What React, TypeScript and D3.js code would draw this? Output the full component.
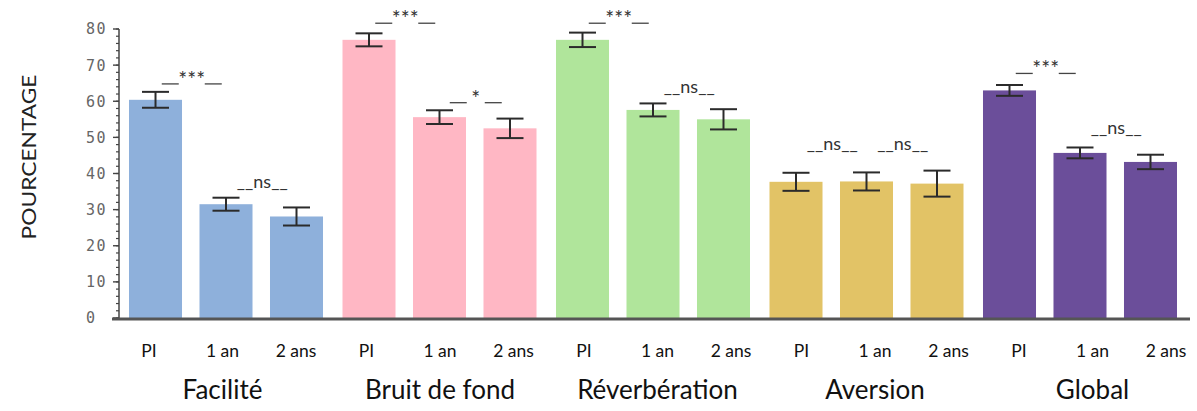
import React from "react";
import * as d3 from "d3";

const groups = ["Facilité", "Bruit de fond", "Réverbération", "Aversion", "Global"];
const periods = ["PI", "1 an", "2 ans"];
const groupColors = ["#8EB0DB", "#FFB7C4", "#B0E59B", "#E2C366", "#6B4E9A"];

const meanPI = [60.4, 77.0, 77.0, 37.7, 63.0];
const errPI = [2.2, 1.8, 2.0, 2.5, 1.5];
const mean1an = [31.5, 55.6, 57.6, 37.8, 45.7];
const err1an = [1.8, 1.9, 1.8, 2.5, 1.5];
const mean2ans = [28.1, 52.5, 55.0, 37.2, 43.2];
const err2ans = [2.5, 2.7, 2.8, 3.6, 2.0];

const yTicks = [0, 10, 20, 30, 40, 50, 60, 70, 80];

// significance annotations: group index, first period index of the pair, label, level (percentage)
const annGroup = [0, 0, 1, 1, 2, 2, 3, 3, 4, 4];
const annFrom = [0, 1, 0, 1, 0, 1, 0, 1, 0, 1];
const annLabel = ["***", "ns", "***", "*", "***", "ns", "ns", "ns", "***", "ns"];
const annLevel = [64.8, 35.2, 81.6, 59.6, 81.6, 61.5, 45.7, 45.7, 67.7, 50.2];

const W = 1197;
const H = 411;
const FONT = "Lato, 'Open Sans', sans-serif";

export default function App() {
  const means = [meanPI, mean1an, mean2ans];
  const errs = [errPI, err1an, err2ans];

  const y = d3.scaleLinear().domain([0, 80]).range([318, 29]);
  const xGroup = d3.scaleBand<string>().domain(groups).range([129, 1177]).paddingInner(0.0913);
  const xInner = d3.scaleBand<string>().domain(periods).range([0, xGroup.bandwidth()]).paddingInner(0.248);
  const bw = xInner.bandwidth();
  const barCenter = (g: number, p: number) =>
    (xGroup(groups[g]) as number) + (xInner(periods[p]) as number) + bw / 2;

  // label layout (text boxes under the axis)
  const xLab = d3.scalePoint<string>().domain(groups).range([149, 149 + 4 * 217.5]);
  const xLabIn = d3.scalePoint<string>().domain(periods).range([0, 147]);

  const minor = d3.range(0, 81, 2);

  return (
    <svg width={W} height={H} style={{ display: "block", position: "absolute", left: 0, top: 0 }}>
      <rect width={W} height={H} fill="#fff" />
      {groups.map((g, gi) =>
        periods.map((p, pi) => {
          const v = means[pi][gi];
          return (
            <rect
              key={g + p}
              x={barCenter(gi, pi) - bw / 2}
              y={y(v)}
              width={bw}
              height={y(0) - y(v)}
              fill={groupColors[gi]}
            />
          );
        })
      )}
      {groups.map((g, gi) =>
        periods.map((p, pi) => {
          const v = means[pi][gi];
          const e = errs[pi][gi];
          const cx = barCenter(gi, pi);
          const cap = 13.5;
          return (
            <g key={"e" + g + p} stroke="#2b2b2b" strokeWidth={2}>
              <line x1={cx} x2={cx} y1={y(v + e)} y2={y(v - e)} />
              <line x1={cx - cap} x2={cx + cap} y1={y(v + e)} y2={y(v + e)} />
              <line x1={cx - cap} x2={cx + cap} y1={y(v - e)} y2={y(v - e)} />
            </g>
          );
        })
      )}
      {annLabel.map((lab, i) => {
        const g = annGroup[i];
        const a = annFrom[i];
        const cx = (barCenter(g, a) + barCenter(g, a + 1)) / 2 + 1;
        const ly = y(annLevel[i]);
        if (lab === "ns") {
          return (
            <text key={"a" + i} x={cx} y={ly - 3} textAnchor="middle" fontFamily={FONT} fontSize={18} fill="#333">
              {"__ns__"}
            </text>
          );
        }
        const half = lab === "*" ? 9 : 13;
        return (
          <g key={"a" + i}>
            <line x1={cx - half - 17} x2={cx - half} y1={ly} y2={ly} stroke="#444" strokeWidth={1.3} />
            <line x1={cx + half} x2={cx + half + 17} y1={ly} y2={ly} stroke="#444" strokeWidth={1.3} />
            <text x={cx} y={ly + 3} textAnchor="middle" fontFamily={FONT} fontSize={21} fill="#333">
              {lab}
            </text>
          </g>
        );
      })}
      {/* y axis */}
      <line x1={119} x2={119} y1={y(80)} y2={y(0)} stroke="#444" strokeWidth={1.5} />
      {minor.map((t) => (
        <line key={"m" + t} x1={116} x2={119} y1={y(t)} y2={y(t)} stroke="#444" strokeWidth={1.2} />
      ))}
      {yTicks.map((t) => (
        <g key={"t" + t}>
          <line x1={113} x2={119} y1={y(t)} y2={y(t)} stroke="#444" strokeWidth={1.4} />
          <text
            x={86}
            y={y(t)}
            dy="0.36em"
            textAnchor="start"
            fontFamily="'DejaVu Sans Mono', monospace"
            fontSize={15}
            letterSpacing={1.5}
            fill="#666"
          >
            {t}
          </text>
        </g>
      ))}
      {/* baseline */}
      <line x1={112} x2={1190} y1={y(0) + 1} y2={y(0) + 1} stroke="#555" strokeWidth={3} />
      {/* y title */}
      <text
        transform={`translate(29,${157}) rotate(-90)`}
        textAnchor="middle"
        dy="0.36em"
        fontFamily={FONT}
        fontSize={20}
        fill="#222"
        textLength={165}
        lengthAdjust="spacingAndGlyphs"
      >
        POURCENTAGE
      </text>
      {groups.map((g) =>
        periods.map((p) => (
          <text
            key={"l" + g + p}
            x={(xLab(g) as number) + (xLabIn(p) as number)}
            y={357}
            textAnchor="middle"
            fontFamily={FONT}
            fontSize={17.5}
            fill="#111"
          >
            {p}
          </text>
        ))
      )}
      {groups.map((g) => (
        <text
          key={"g" + g}
          x={(xLab(g) as number) + 73.5}
          y={399}
          textAnchor="middle"
          fontFamily={FONT}
          fontSize={26}
          fill="#111"
        >
          {g}
        </text>
      ))}
    </svg>
  );
}
